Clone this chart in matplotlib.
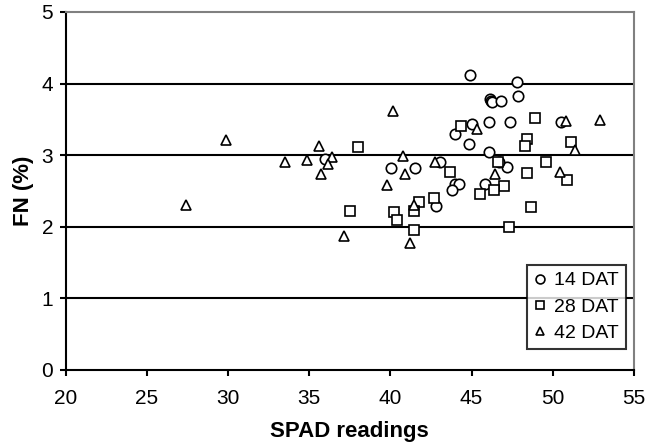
import numpy as np
import matplotlib
matplotlib.use("Agg")
import matplotlib.pyplot as plt

# Datos (SPAD vs FN %)
spad_14 = [44.9, 47.8, 47.85, 46.15, 46.2, 46.25, 46.8, 46.05, 47.35, 45.05, 50.5,
           44.0, 44.85, 46.05, 36.0, 43.05, 40.05, 41.5, 47.2, 44.0, 44.2, 43.8,
           45.8, 42.8, 46.7]
fn_14 = [4.12, 4.02, 3.82, 3.78, 3.76, 3.74, 3.76, 3.46, 3.46, 3.43, 3.46,
         3.30, 3.15, 3.05, 2.95, 2.90, 2.82, 2.82, 2.84, 2.60, 2.60, 2.51,
         2.60, 2.29, 2.90]

spad_28 = [48.9, 44.35, 48.4, 48.3, 51.1, 38.0, 46.6, 49.6, 43.65, 48.4, 50.9,
           47.0, 45.5, 46.4, 42.7, 41.75, 37.5, 40.25, 40.4, 41.45, 41.45, 48.65,
           47.3]
fn_28 = [3.52, 3.41, 3.23, 3.13, 3.19, 3.12, 2.91, 2.91, 2.76, 2.75, 2.66,
         2.57, 2.46, 2.51, 2.40, 2.34, 2.22, 2.20, 2.09, 2.22, 1.96, 2.27,
         1.99]

spad_42 = [27.4, 29.85, 33.5, 34.85, 35.6, 35.7, 36.4, 36.15, 37.15, 40.15, 40.8,
           39.8, 40.9, 41.2, 41.45, 42.75, 45.35, 46.45, 50.8, 52.9, 51.4, 50.45]
fn_42 = [2.31, 3.21, 2.90, 2.93, 3.13, 2.74, 2.98, 2.87, 1.87, 3.61, 2.99,
         2.59, 2.74, 1.78, 2.30, 2.91, 3.37, 2.74, 3.47, 3.49, 3.07, 2.77]

series = [("14 DAT", spad_14, fn_14, "o"),
          ("28 DAT", spad_28, fn_28, "s"),
          ("42 DAT", spad_42, fn_42, "^")]

plt.rcParams["font.family"] = ["Liberation Sans", "DejaVu Sans"]

fig = plt.figure(figsize=(6.6, 4.47), dpi=100)
ax = fig.add_axes([0.0995, 0.1723, 0.861, 0.801])

for y in [1, 2, 3, 4]:
    ax.axhline(y, color="black", lw=1.5, zorder=1)

for nombre, xs, ys, m in series:
    ax.plot(xs, ys, linestyle="none", marker=m, markersize=7.5 if m != "s" else 7,
            markerfacecolor="white", markeredgecolor="black", markeredgewidth=1.2,
            label=nombre, zorder=3)

ax.set_xlim(20, 55)
ax.set_ylim(0, 5)
ax.set_xticks(np.arange(20, 56, 5))
ax.set_yticks(np.arange(0, 6, 1))

for lado in ["left", "bottom"]:
    ax.spines[lado].set_color("black")
    ax.spines[lado].set_linewidth(1.5)
for lado in ["top", "right"]:
    ax.spines[lado].set_color("#808080")
    ax.spines[lado].set_linewidth(1.5)

ax.tick_params(direction="out", length=4.5, width=1.5, labelsize=15)
ax.tick_params(axis="x", pad=9)
ax.tick_params(axis="y", pad=4.5)

ax.set_xlabel("SPAD readings", fontsize=16, fontweight="bold")
ax.set_ylabel("FN (%)", fontsize=16, fontweight="bold")
ax.xaxis.set_label_coords(0.5, -0.173)
ax.xaxis.label.set_verticalalignment("center")
ax.yaxis.set_label_coords(-0.0734, 0.5)
ax.yaxis.label.set_verticalalignment("center")

leg = ax.legend(loc="lower right", bbox_to_anchor=(0.986, 0.0587), fontsize=14,
                frameon=True, fancybox=False, edgecolor="black", handlelength=0.6,
                handletextpad=0.45, borderpad=0.35, labelspacing=0.45,
                borderaxespad=0, markerscale=0.85)
leg.get_frame().set_linewidth(1.5)

fig.savefig("out.png", dpi=100)
